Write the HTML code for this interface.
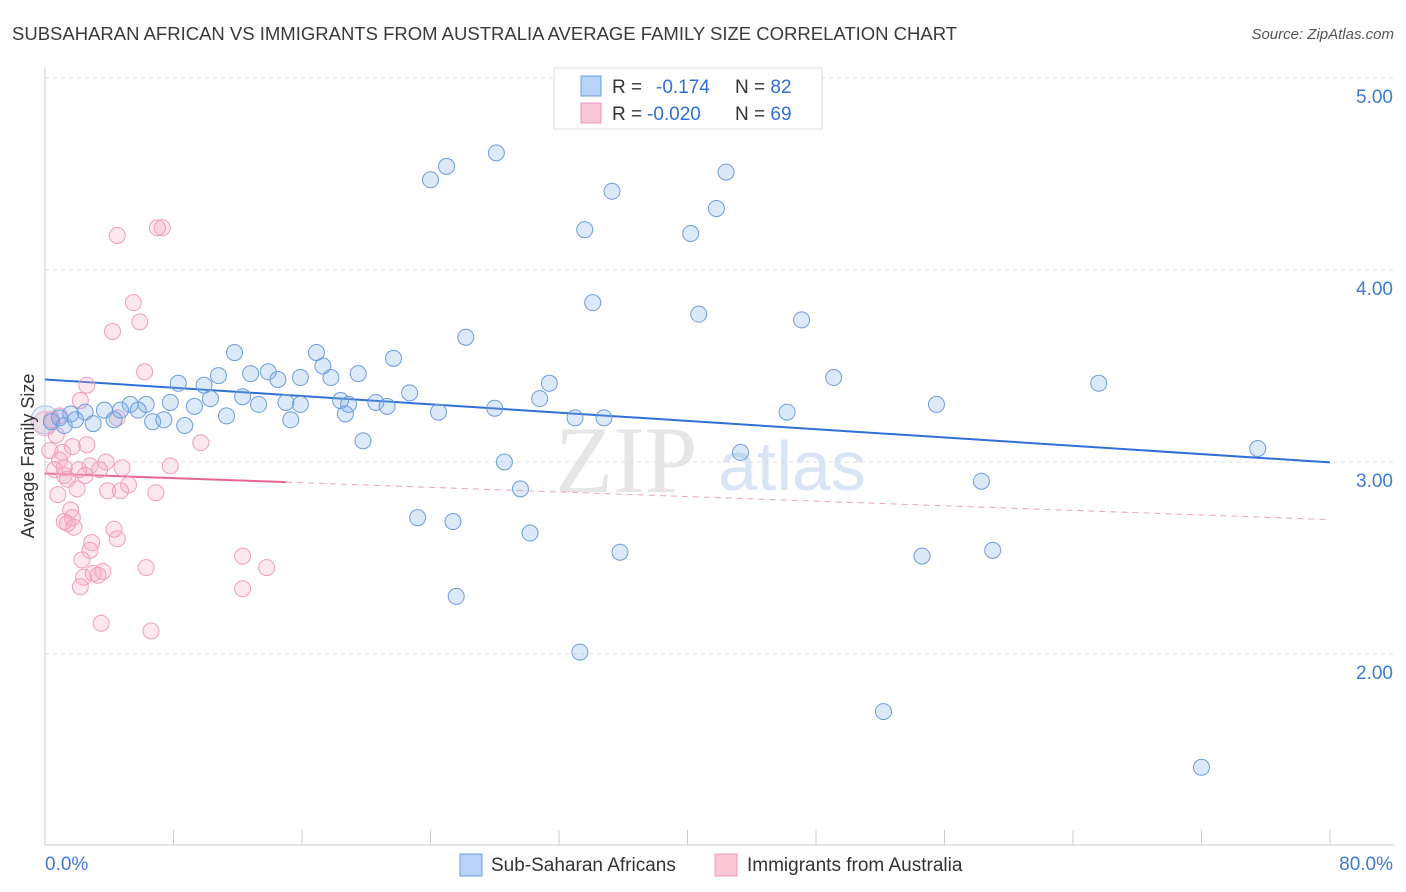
<!DOCTYPE html>
<html><head><meta charset="utf-8"><style>
body{margin:0;background:#fff;font-family:"Liberation Sans",sans-serif;}
svg{display:block}
</style></head><body>
<svg id="chart" width="1406" height="892">
<text x="12" y="40" font-size="18.5" fill="#3a3a3a">SUBSAHARAN AFRICAN VS IMMIGRANTS FROM AUSTRALIA AVERAGE FAMILY SIZE CORRELATION CHART</text>
<text x="1394" y="39" font-size="15" fill="#555" font-style="italic" text-anchor="end">Source: ZipAtlas.com</text>
<text x="555" y="492" font-size="95" fill="#e6e6e6" font-family="Liberation Serif,serif">ZIP</text>
<text x="718" y="490" font-size="70" fill="#d9e5f6">atlas</text>
<g id="grid"></g><g id="axes"></g><g id="lines"></g><g id="pts"></g>
<text transform="translate(34,456) rotate(-90)" font-size="18" fill="#333" text-anchor="middle">Average Family Size</text>
<g>
<rect x="554" y="68" width="268" height="61" fill="#fff" stroke="#ddd"/>
<rect x="581" y="76" width="20" height="20" fill="#b8d3f5" stroke="#6a9ee0"/>
<rect x="581" y="103" width="20" height="20" fill="#f9c6d5" stroke="#ec9ab4"/>
<text x="612" y="93" font-size="19" fill="#333">R = <tspan x="656" fill="#2f6fd6">-0.174</tspan><tspan x="735">N = </tspan><tspan fill="#2f6fd6">82</tspan></text>
<text x="612" y="120" font-size="19" fill="#333">R = <tspan x="647" fill="#2f6fd6">-0.020</tspan><tspan x="735">N = </tspan><tspan fill="#2f6fd6">69</tspan></text>
</g>
<g>
<rect x="460" y="854" width="22" height="22" fill="#b8d3f5" stroke="#6a9ee0"/>
<text x="491" y="871" font-size="19" fill="#333">Sub-Saharan Africans</text>
<rect x="715" y="854" width="22" height="22" fill="#f9c6d5" stroke="#ec9ab4"/>
<text x="747" y="871" font-size="19" fill="#333">Immigrants from Australia</text>
</g>
</svg>
<script>
const yTicks=[2,3,4,5];
const yTickLabels=["2.00","3.00","4.00","5.00"];
const xTickLabels=["0.0%","80.0%"];
const blueX=[28.1,25.0,24.0,42.4,35.3,41.8,33.6,40.2,34.1,40.7,47.1,26.2,11.8,16.9,21.7,17.3,13.9,12.8,10.8,15.9,17.8,19.5,14.5,8.3,9.9,31.4,49.1,65.6,22.7,12.3,10.3,7.8,6.3,5.3,15.9,15.0,13.3,9.3,18.4,20.6,21.3,18.9,30.8,55.5,28.0,24.5,3.7,4.7,5.8,2.5,1.6,0.9,0.4,1.2,1.9,3.0,4.3,6.7,7.4,8.7,11.3,15.3,18.7,33.0,34.8,46.2,19.8,75.5,43.3,28.6,58.3,29.6,23.2,25.4,30.2,35.8,54.6,59.0,25.6,33.3,52.2,72.0];
const blueY=[4.61,4.54,4.47,4.51,4.41,4.32,4.21,4.19,3.83,3.77,3.74,3.65,3.57,3.57,3.54,3.50,3.47,3.46,3.45,3.44,3.44,3.46,3.43,3.41,3.40,3.41,3.44,3.41,3.36,3.34,3.33,3.31,3.30,3.30,3.30,3.31,3.30,3.29,3.32,3.31,3.29,3.30,3.33,3.30,3.28,3.26,3.27,3.27,3.27,3.26,3.25,3.23,3.21,3.19,3.22,3.20,3.22,3.21,3.22,3.19,3.24,3.22,3.25,3.23,3.23,3.26,3.11,3.07,3.05,3.00,2.90,2.86,2.71,2.69,2.63,2.53,2.51,2.54,2.30,2.01,1.70,1.41];
const pinkX=[7.0,7.3,4.5,5.5,5.9,4.2,6.2,2.6,2.2,4.5,0.9,0.4,0.7,1.7,2.6,9.7,0.3,1.1,0.9,3.8,4.8,7.8,2.8,0.6,1.2,2.1,2.5,3.4,1.2,1.4,0.8,2.0,3.9,5.2,4.7,6.9,1.6,1.7,1.2,1.8,1.4,4.3,4.5,2.9,2.8,2.3,12.3,13.8,6.3,3.6,2.4,3.3,3.0,2.2,12.3,3.5,6.6];
const pinkY=[4.22,4.22,4.18,3.83,3.73,3.68,3.47,3.40,3.32,3.23,3.24,3.22,3.14,3.08,3.09,3.10,3.06,3.05,3.01,3.00,2.97,2.98,2.98,2.96,2.97,2.96,2.93,2.96,2.93,2.91,2.83,2.86,2.85,2.88,2.85,2.84,2.75,2.71,2.69,2.66,2.68,2.65,2.60,2.58,2.54,2.49,2.51,2.45,2.45,2.43,2.40,2.41,2.42,2.35,2.34,2.16,2.12];
// reported trend lines (intercept, slope per %), solid extent
const blueTrend=[3.43,-0.0054];
const pinkTrend=[2.94,-0.003];
const pinkSolidEnd=[15];
const NS="http://www.w3.org/2000/svg";
const X0=45,X1=1330,YB=845;
function sx(v){return X0+(v/80)*(X1-X0);}
function sy(v){return 462-(v-3)*192;}
function mk(tag,attrs,parent){const e=document.createElementNS(NS,tag);for(const k in attrs)e.setAttribute(k,attrs[k]);document.getElementById(parent).appendChild(e);return e;}
yTicks.forEach((t,i)=>{
  const g=mk('line',{x1:X0,x2:1394,y1:sy(t),y2:sy(t),stroke:'#dcdcdc','stroke-dasharray':'4,4'},'grid');
  
  
  const tx=mk('text',{x:1393,y:sy(t)+25,'font-size':19,fill:'#3f7ad6','text-anchor':'end'},'grid');
  tx.textContent=yTickLabels[i];
  
  
});
const ya=mk('line',{x1:X0,x2:X0,y1:68,y2:YB,stroke:'#ccc'},'axes');


const xa=mk('line',{x1:X0,x2:1394,y1:YB,y2:YB,stroke:'#ccc'},'axes');


for(let v=0;v<=80;v+=8){
  const t=mk('line',{x1:sx(v),x2:sx(v),y1:830,y2:YB,stroke:'#ccc'},'axes');
  
  
}
[[0,'start',45],[80,'end',1393]].forEach((a,i)=>{
  const t=mk('text',{x:a[2],y:870,'font-size':19,fill:'#3f7ad6','text-anchor':a[1]},'axes');
  t.textContent=xTickLabels[i];
  
  
});
function ty(tr,x){return tr[0]+tr[1]*x;}
const bl=mk('line',{x1:sx(0),y1:sy(ty(blueTrend,0)),x2:sx(80),y2:sy(ty(blueTrend,80)),stroke:'#2f6fd6','stroke-width':2},'lines');


const pe=pinkSolidEnd[0];
const pl=mk('line',{x1:sx(0),y1:sy(ty(pinkTrend,0)),x2:sx(pe),y2:sy(ty(pinkTrend,pe)),stroke:'#e8668f','stroke-width':2},'lines');


const pd=mk('line',{x1:sx(pe),y1:sy(ty(pinkTrend,pe)),x2:sx(80),y2:sy(ty(pinkTrend,80)),stroke:'#eea0b8','stroke-width':1,'stroke-dasharray':'6,5'},'lines');


const bigB=mk('circle',{cx:sx(0),cy:sy(3.22),r:14,fill:'rgba(160,190,235,0.25)',stroke:'#a9c3ea'},'pts');


const bigP=mk('circle',{cx:sx(0),cy:sy(3.2),r:12,fill:'rgba(240,170,195,0.25)',stroke:'#f0b4c6'},'pts');


pinkX.forEach((x,i)=>{
  const c=mk('circle',{cx:sx(x),cy:sy(pinkY[i]),r:8,fill:'rgba(245,170,195,0.28)',stroke:'#ef9fb9','stroke-width':1},'pts');
  
  
});
blueX.forEach((x,i)=>{
  const c=mk('circle',{cx:sx(x),cy:sy(blueY[i]),r:8,fill:'rgba(130,175,235,0.28)',stroke:'#6d9ddc','stroke-width':1},'pts');
  
  
});
</script>
</body></html>
